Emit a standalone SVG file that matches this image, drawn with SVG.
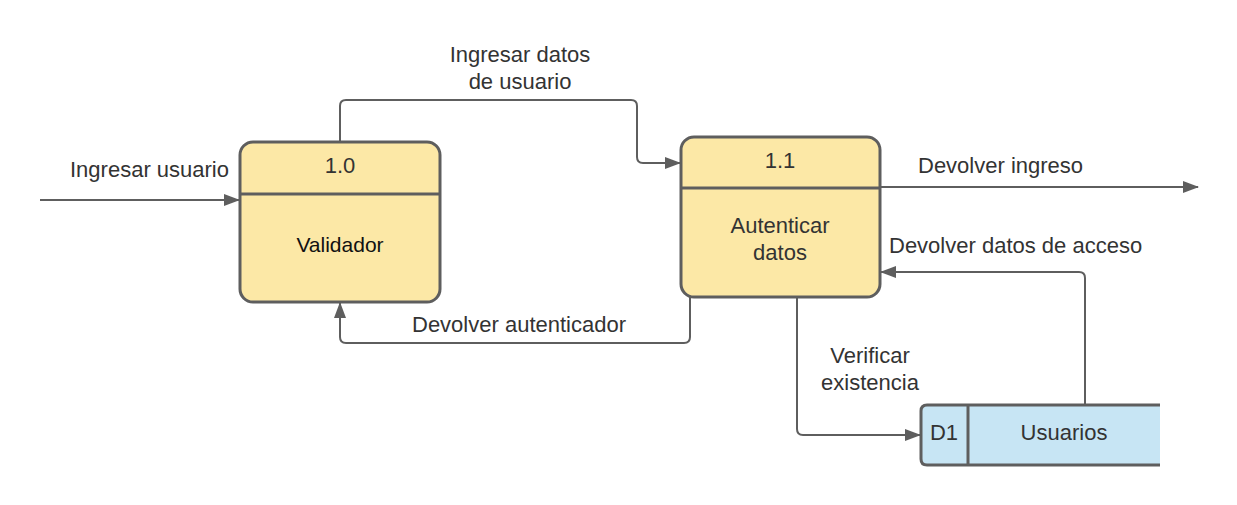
<svg xmlns="http://www.w3.org/2000/svg" width="1237" height="505" viewBox="0 0 1237 505">
<defs>
<style>
.t{font-family:"Liberation Sans",Arial,sans-serif;font-size:22px;fill:#333333}
.c{text-anchor:middle}
.proc{fill:#fce8a6;stroke:#5e5e5e;stroke-width:3}
.div{stroke:#5e5e5e;stroke-width:3}
.ln{fill:none;stroke:#5e5e5e;stroke-width:2;stroke-linejoin:round}
</style>
<marker id="ah" markerWidth="16" markerHeight="12" viewBox="0 0 16 12" refX="15" refY="6" orient="auto" markerUnits="userSpaceOnUse">
<path d="M0,0 L16,6 L0,12 Z" fill="#5e5e5e"/>
</marker>
</defs>
<rect width="1237" height="505" fill="#ffffff"/>
<g id="connectors">
<path class="ln" d="M40,200 H239" marker-end="url(#ah)"/>
<path class="ln" d="M340,142 V106 Q340,100 346,100 H631 Q637,100 637,106 V157 Q637,163 643,163 H680" marker-end="url(#ah)"/>
<path class="ln" d="M880,187 H1198" marker-end="url(#ah)"/>
<path class="ln" d="M1085,405 V278 Q1085,272 1079,272 H881" marker-end="url(#ah)"/>
<path class="ln" d="M797,297 V429 Q797,435 803,435 H920" marker-end="url(#ah)"/>
<path class="ln" d="M690,297 V337 Q690,343 684,343 H346 Q340,343 340,337 V303" marker-end="url(#ah)"/>
</g>
<g id="labels">
<text class="t" x="70" y="177">Ingresar usuario</text>
<text class="t c" x="520" y="62">Ingresar datos</text>
<text class="t c" x="520" y="89">de usuario</text>
<text class="t" x="918" y="173">Devolver ingreso</text>
<text class="t" x="889" y="253">Devolver datos de acceso</text>
<text class="t" x="412" y="332">Devolver autenticador</text>
<text class="t c" x="870" y="363">Verificar</text>
<text class="t c" x="870" y="390">existencia</text>
</g>
<g id="node-1-0">
<rect class="proc" x="240" y="142" width="200" height="160" rx="13"/>
<line class="div" x1="240" y1="194" x2="440" y2="194"/>
<text class="t c" x="340" y="173">1.0</text>
<text class="t c" x="340" y="252" style="fill:#111111;font-size:21px">Validador</text>
</g>
<g id="node-1-1">
<rect class="proc" x="681" y="137" width="199" height="160" rx="13"/>
<line class="div" x1="681" y1="188" x2="880" y2="188"/>
<text class="t c" x="780" y="168">1.1</text>
<text class="t c" x="780" y="233">Autenticar</text>
<text class="t c" x="780" y="260">datos</text>
</g>
<g id="datastore-d1">
<path d="M1160,405 H927 Q921,405 921,411 V459 Q921,465 927,465 H1160 Z" fill="#c7e5f4"/>
<path d="M1160,405 H927 Q921,405 921,411 V459 Q921,465 927,465 H1160" fill="none" stroke="#5e5e5e" stroke-width="3"/>
<line x1="968" y1="405" x2="968" y2="465" stroke="#5e5e5e" stroke-width="3"/>
<text class="t c" x="944" y="440">D1</text>
<text class="t c" x="1064" y="440">Usuarios</text>
</g>
</svg>
